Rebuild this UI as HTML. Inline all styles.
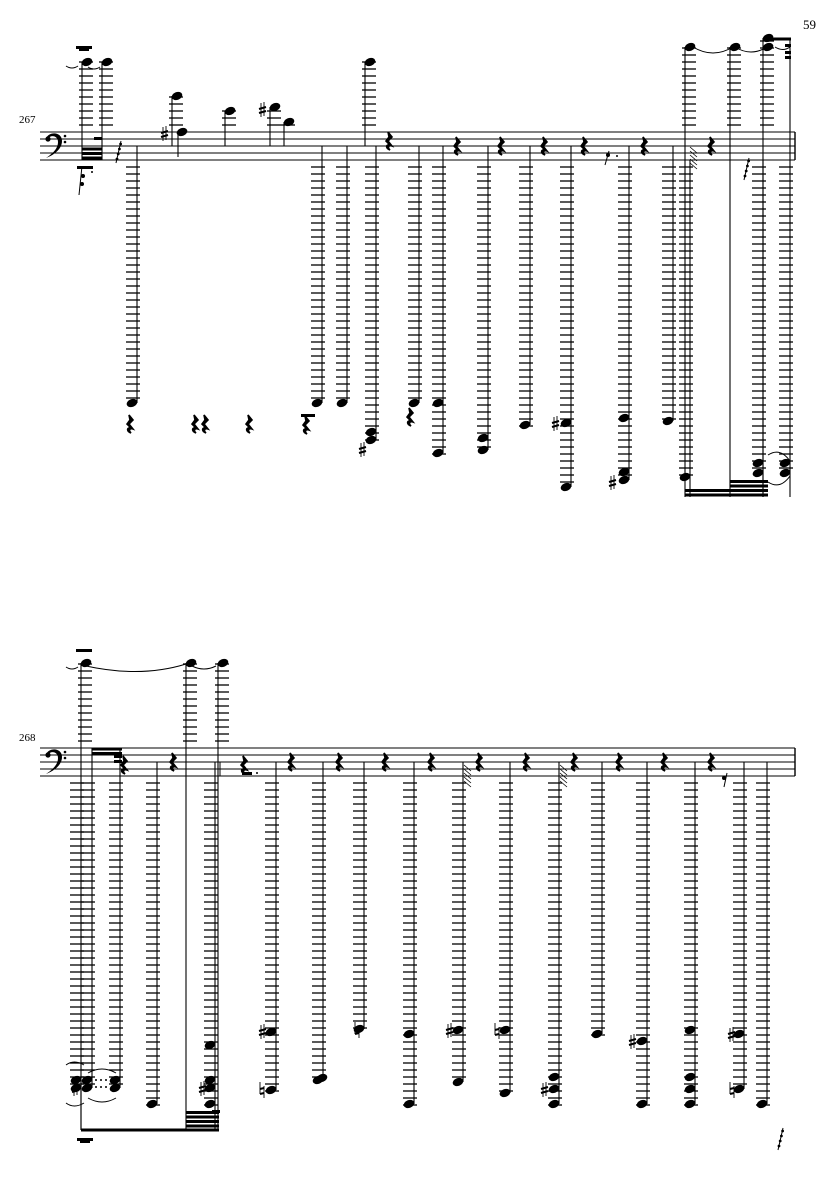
<!DOCTYPE html>
<html><head><meta charset="utf-8"><style>
html,body{margin:0;padding:0;background:#fff;width:835px;height:1181px;overflow:hidden}
svg{display:block}
text{font-family:"Liberation Serif",serif}
</style></head><body>
<svg id="s" width="835" height="1181" viewBox="0 0 835 1181" xmlns="http://www.w3.org/2000/svg">
<text x="19" y="123" font-size="11">267</text>
<text x="19" y="741" font-size="11">268</text>
<text x="803" y="29" font-size="13">59</text>
</svg>
<script>
var S=document.getElementById('s'),h='';
function L(x1,y1,x2,y2,w){h+='<line x1="'+x1+'" y1="'+y1+'" x2="'+x2+'" y2="'+y2+'" stroke="#000" stroke-width="'+(w||1)+'"/>';}
function head(cx,cy){h+='<ellipse cx="'+cx+'" cy="'+cy+'" rx="5.5" ry="3.9" transform="rotate(-22 '+cx+' '+cy+')" fill="#000"/>';}
function staff(t){for(var i=0;i<5;i++)L(40,t+7*i,795,t+7*i,1);L(795,t,795,t+28,1.4);
 h+='<path d="M46 '+(t+6)+' c4 -7 16 -6 16 3 c0 8 -8 14 -16 17 c6 -4 12 -9 12 -16 c0 -6 -7 -8 -10 -3 z" fill="#000"/><circle cx="48" cy="'+(t+7)+'" r="2.6" fill="#000"/><circle cx="65" cy="'+(t+4)+'" r="1.3" fill="#000"/><circle cx="65" cy="'+(t+10)+'" r="1.3" fill="#000"/>';}
function rest(x,y){h+='<path d="M'+(x-2)+' '+(y-9)+' l4 5 l-4 4 l4 5 c-3 -1 -5 1 -2 4 c-5 -2 -4 -6 0 -5 l-4 -4 l3 -4 z" fill="#000" stroke="#000" stroke-width="1.6"/>';}
function sharp(x,y){L(x-1,y-7,x-1,y+7,0.9);L(x+2,y-8,x+2,y+6,0.9);L(x-3,y-1,x+4,y-3,2);L(x-3,y+3,x+4,y+1,2);}
function nat(x,y){L(x-2,y-8,x-2,y+4,0.9);L(x+2,y-4,x+2,y+8,0.9);L(x-2,y-1,x+2,y-2,2);L(x-2,y+4,x+2,y+3,2);}
function below(t,x,notes,yTop,yBot){var lo=Math.max.apply(null,notes);
 for(var y=t+35;y<=lo+1;y+=7)L(x-11,y,x+3,y,1.3);
 L(x,yTop,x,yBot||lo,1.1);notes.forEach(function(n){head(x-5,n)});}
function above(t,x,n,yEnd){for(var y=t-7;y>=n-1;y-=7)L(x-3,y,x+11,y,1.3);L(x,n,x,yEnd,1.1);head(x+5,n);}
function beam(x1,x2,y,k,dir){for(var i=0;i<k;i++){var yy=y+dir*i*4.5;h+='<rect x="'+x1+'" y="'+(yy-1.5)+'" width="'+(x2-x1)+'" height="3" fill="#000"/>';}}
function grace(x,y){L(x,y,x+5,y-22,1);for(var i=0;i<4;i++)h+='<circle cx="'+(x+1+i*1.2)+'" cy="'+(y-4-i*5)+'" r="1.4" fill="#000"/>';}

var t=132;staff(t);
above(t,82,62,160);above(t,102,62,160);
h+='<rect x="76" y="46" width="16" height="3" fill="#000"/><rect x="79" y="49" width="10" height="2" fill="#000"/>';
h+='<path d="M66 66 q6 4 12 0 M88 67 q6 4 12 0" stroke="#000" fill="none"/>';
beam(82,102,149,3,1);h+='<rect x="94" y="137" width="8" height="3" fill="#000"/>';
h+='<rect x="77" y="166" width="16" height="3" fill="#000"/>';L(82,166,79,195,1);h+='<circle cx="83" cy="176" r="2" fill="#000"/><circle cx="82" cy="184" r="2" fill="#000"/><circle cx="92" cy="172" r="1" fill="#000"/>';
grace(116,163);
below(t,137,[403],146);
above(t,172,96,146);L(178,132,178,157,1.1);head(182,132);sharp(164,134);
above(t,225,111,146);above(t,270,107,146);sharp(262,110);above(t,284,122,146);
below(t,322,[403],146);below(t,347,[403],146);above(t,365,62,146);
below(t,376,[432,440],146);sharp(362,450);
below(t,419,[403],146);below(t,443,[403,453],146);below(t,488,[438,450],146);
below(t,530,[425],146);below(t,571,[423,487],146);sharp(555,424);
below(t,629,[418,472,480],146);sharp(612,483);below(t,673,[421],146);
above(t,685,47,497);below(t,690,[477],160,497);
above(t,730,47,497);above(t,763,38,497);head(768,47);
below(t,763,[463,473],160,497);below(t,790,[463,473],38,497);
beam(685,732,495,2,-1);beam(730,768,495,4,-1);beam(763,791,39,1,1);
h+='<rect x="785" y="44" width="6" height="3" fill="#000"/><rect x="785" y="51" width="6" height="3" fill="#000"/><rect x="785" y="56" width="6" height="3" fill="#000"/>';
h+='<path d="M693 47 q20 12 40 0 M735 47 q16 10 32 0 M775 47 q8 5 15 0" stroke="#000" fill="none"/>';
h+='<path d="M768 455 q12 -8 22 6 M768 482 q12 8 22 -6" stroke="#000" fill="none"/>';
L(763,132,763,160,1);
for(var i=0;i<5;i++)L(690,147+i*4,697,153+i*4,0.8);
grace(744,180);
[[131,424],[196,424],[206,424],[250,424],[307,425],[411,417],[458,146],[502,146],[545,146],[585,146],[645,146],[712,146],[390,141]].forEach(function(r){rest(r[0],r[1]);});
h+='<rect x="301" y="414" width="14" height="3" fill="#000"/>';
L(609,151,605,165,1);h+='<circle cx="608" cy="155" r="2" fill="#000"/><circle cx="617" cy="156" r="1" fill="#000"/>';

t=748;staff(t);
above(t,81,663,1130);below(t,81,[1080,1088],1080,1130);
h+='<rect x="76" y="649" width="16" height="3" fill="#000"/><rect x="77" y="1138" width="16" height="3" fill="#000"/><rect x="80" y="1141" width="10" height="2" fill="#000"/>';
below(t,92,[1080,1088],748);below(t,120,[1080,1088],748);sharp(75,1089);
h+='<path d="M66 1065 q8 -6 18 0 M66 1103 q8 6 18 0 M88 1073 q14 -8 28 0 M88 1098 q14 8 28 0" stroke="#000" fill="none"/>';
for(var i=0;i<3;i++){h+='<circle cx="'+(96+i*5)+'" cy="1080" r="1" fill="#000"/><circle cx="'+(96+i*5)+'" cy="1087" r="1" fill="#000"/>';}
beam(92,122,749,2,1);h+='<rect x="114" y="755" width="8" height="3" fill="#000"/><rect x="114" y="760" width="8" height="3" fill="#000"/>';
below(t,157,[1104],762);
above(t,186,663,1130);above(t,218,663,1130);
below(t,215,[1045,1080,1088,1104],762,1130);sharp(202,1089);
L(220,762,220,776,1);
beam(81,219,1130,1,1);beam(186,219,1126,4,-1);h+='<rect x="212" y="1110" width="8" height="3" fill="#000"/>';
h+='<path d="M86 666 q55 12 100 -2 M192 666 q12 6 24 0 M66 667 q6 4 12 0" stroke="#000" fill="none"/>';
h+='<rect x="242" y="772" width="10" height="3" fill="#000"/><circle cx="257" cy="773" r="1" fill="#000"/>';
below(t,276,[1032,1090],762);sharp(262,1032);nat(262,1090);
below(t,323,[1080],762);head(322,1078);
below(t,364,[1029],762);nat(357,1030);
below(t,414,[1034,1104],762);below(t,463,[1030,1082],762);sharp(449,1031);
below(t,510,[1030,1093],762);nat(497,1031);
below(t,559,[1077,1089,1104],762);sharp(544,1090);
below(t,602,[1034],762);below(t,647,[1041,1104],762);sharp(632,1042);
below(t,695,[1030,1077,1089,1104],762);below(t,744,[1034,1089],762);sharp(731,1035);nat(732,1090);
below(t,767,[1104],762);
for(var i=0;i<5;i++){L(464,765+i*4,471,771+i*4,0.8);L(560,765+i*4,567,771+i*4,0.8);}
[[125,765],[174,762],[245,765],[292,762],[340,762],[386,762],[432,762],[480,762],[527,762],[575,762],[620,762],[665,762],[712,762]].forEach(function(r){rest(r[0],r[1]);});
L(727,773,724,787,1);h+='<circle cx="724" cy="778" r="2" fill="#000"/>';
grace(778,1150);
S.innerHTML+=h;
</script>
</body></html>
